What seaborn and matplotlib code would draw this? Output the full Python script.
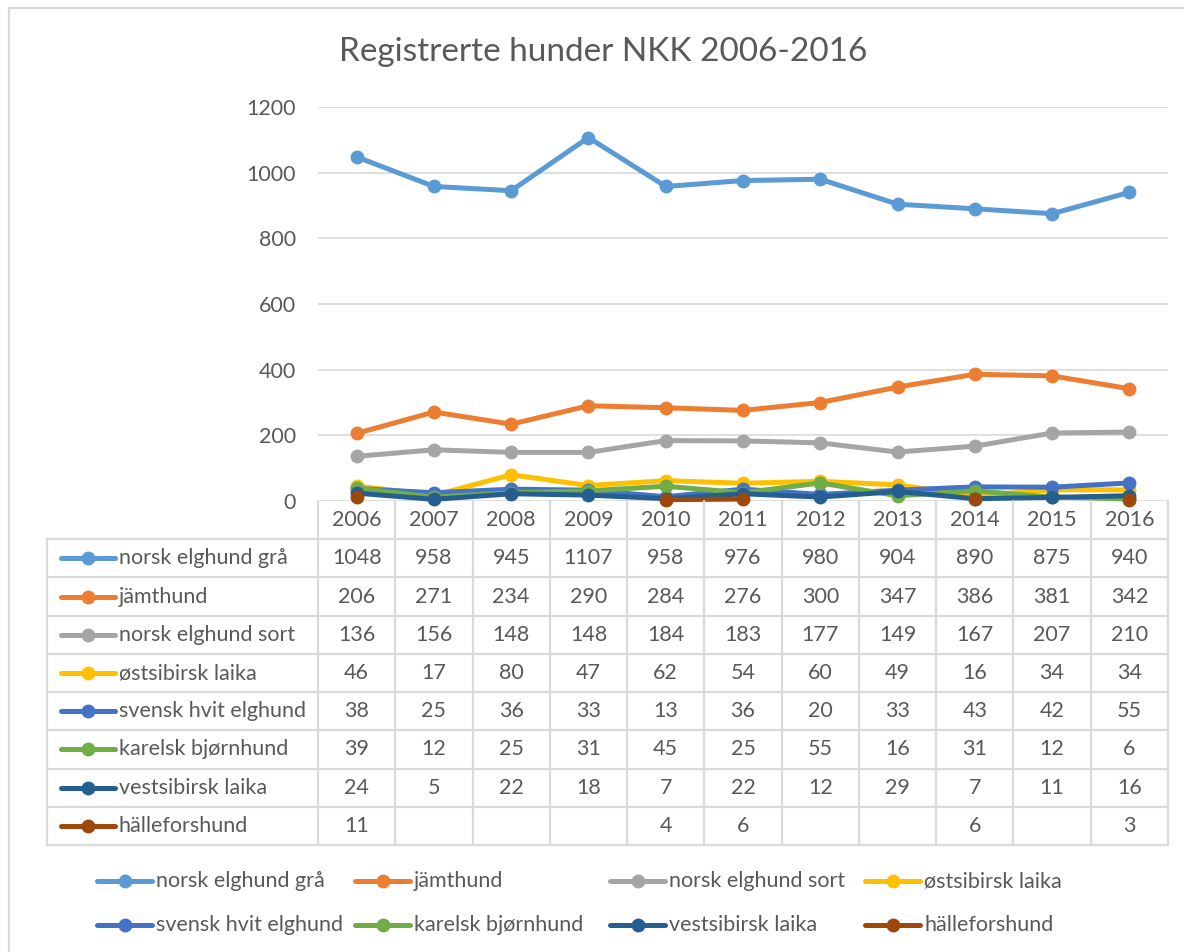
import numpy as np
import pandas as pd
import matplotlib
matplotlib.use('Agg')
import matplotlib.pyplot as plt
import seaborn as sns

# --- Data ---
years = [2006, 2007, 2008, 2009, 2010, 2011, 2012, 2013, 2014, 2015, 2016]
breeds = ['norsk elghund grå', 'jämthund', 'norsk elghund sort', 'østsibirsk laika',
          'svensk hvit elghund', 'karelsk bjørnhund', 'vestsibirsk laika', 'hälleforshund']
norsk_elghund_gra = [1048, 958, 945, 1107, 958, 976, 980, 904, 890, 875, 940]
jamthund = [206, 271, 234, 290, 284, 276, 300, 347, 386, 381, 342]
norsk_elghund_sort = [136, 156, 148, 148, 184, 183, 177, 149, 167, 207, 210]
ostsibirsk_laika = [46, 17, 80, 47, 62, 54, 60, 49, 16, 34, 34]
svensk_hvit_elghund = [38, 25, 36, 33, 13, 36, 20, 33, 43, 42, 55]
karelsk_bjornhund = [39, 12, 25, 31, 45, 25, 55, 16, 31, 12, 6]
vestsibirsk_laika = [24, 5, 22, 18, 7, 22, 12, 29, 7, 11, 16]
halleforshund = [11, np.nan, np.nan, np.nan, 4, 6, np.nan, np.nan, 6, np.nan, 3]
series = [norsk_elghund_gra, jamthund, norsk_elghund_sort, ostsibirsk_laika,
          svensk_hvit_elghund, karelsk_bjornhund, vestsibirsk_laika, halleforshund]
colors = ['#5B9BD5', '#ED7D31', '#A5A5A5', '#FFC000', '#4472C4', '#70AD47', '#255E91', '#9E480E']
title = 'Registrerte hunder NKK 2006-2016'

# --- Styling ---
sns.set_theme(style='white')
plt.rcParams['font.family'] = ['Lato', 'DejaVu Sans']
TXT = '#595959'
GRID = '#D9D9D9'
FS = 15.5

W, H = 1184, 952
fig = plt.figure(figsize=(W / 100, H / 100), dpi=100)
fig.patch.set_facecolor('white')

# pixel layout of the plot area / table
X0, X1 = 318, 1168
Y_TOP, Y_ZERO = 107, 501
TAB_LEFT, TAB_BOTTOM = 47, 845
ncol = len(years)
colw = (X1 - X0) / ncol
rowh = (TAB_BOTTOM - Y_ZERO) / (len(breeds) + 1)

ax = fig.add_axes([X0 / W, 1 - Y_ZERO / H, (X1 - X0) / W, (Y_ZERO - Y_TOP) / H])

# long-form frame, one run id per unbroken stretch so gaps stay gaps
rows = []
for name, vals in zip(breeds, series):
    run = 0
    prev_ok = False
    for i, v in enumerate(vals):
        ok = not np.isnan(v)
        if ok and not prev_ok:
            run += 1
        if ok:
            rows.append({'idx': i, 'value': v, 'breed': name, 'run': f'{name}_{run}'})
        prev_ok = ok
df = pd.DataFrame(rows)

for name, col in zip(breeds, colors):
    sub = df[df['breed'] == name]
    sns.lineplot(data=sub, x='idx', y='value', units='run', estimator=None,
                 color=col, marker='o', markersize=10, markeredgewidth=0,
                 linewidth=3.6, ax=ax, legend=False, clip_on=False, zorder=3)

ax.set_xlim(-0.5, ncol - 0.5)
ax.set_ylim(0, 1200)
ax.set_yticks(range(0, 1201, 200))
ax.set_xticks([])
ax.set_xlabel('')
ax.set_ylabel('')
ax.grid(axis='y', color=GRID, linewidth=1.2)
ax.set_axisbelow(True)
for s in ax.spines.values():
    s.set_visible(False)
ax.tick_params(axis='y', length=0, pad=16, labelsize=FS, labelcolor=TXT)

# --- overlay in pixel coordinates: border, title, table, legend ---
ov = fig.add_axes([0, 0, 1, 1], zorder=-1)
ov.set_xlim(0, W)
ov.set_ylim(H, 0)
ov.axis('off')
ov.plot([9, 9, W + 5], [H + 5, 8, 8], color=GRID, lw=1.6, clip_on=False)

fig.text(603 / W, 1 - 52 / H, title, ha='center', va='center', fontsize=24, color=TXT)

tab = fig.add_axes([0, 0, 1, 1])
tab.set_xlim(0, W)
tab.set_ylim(H, 0)
tab.axis('off')
# grid lines of the table
for k in range(ncol + 1):
    x = X0 + k * colw
    tab.plot([x, x], [Y_ZERO, TAB_BOTTOM], color=GRID, lw=1.6)
for r in range(1, len(breeds) + 2):
    y = Y_ZERO + r * rowh
    tab.plot([TAB_LEFT, X1], [y, y], color=GRID, lw=1.6)
tab.plot([TAB_LEFT, TAB_LEFT], [Y_ZERO + rowh, TAB_BOTTOM], color=GRID, lw=1.6)

for i, yr in enumerate(years):
    tab.text(X0 + (i + 0.5) * colw, Y_ZERO + 0.5 * rowh, str(yr),
             ha='center', va='center', fontsize=FS, color=TXT)

for r, (name, vals, col) in enumerate(zip(breeds, series, colors)):
    yc = Y_ZERO + (r + 1.5) * rowh
    tab.plot([61, 115], [yc, yc], color=col, lw=3.6, solid_capstyle='round')
    tab.plot([88], [yc], 'o', color=col, markersize=10, markeredgewidth=0)
    tab.text(119, yc, name, ha='left', va='center', fontsize=FS, color=TXT)
    for i, v in enumerate(vals):
        if not np.isnan(v):
            tab.text(X0 + (i + 0.5) * colw, yc, f'{int(v)}',
                     ha='center', va='center', fontsize=FS, color=TXT)

# legend below the table
leg_x = [97, 355, 610, 865]
leg_y = [881, 925]
for n, (name, col) in enumerate(zip(breeds, colors)):
    lx = leg_x[n % 4]
    ly = leg_y[n // 4]
    tab.plot([lx, lx + 55], [ly, ly], color=col, lw=3.6, solid_capstyle='round')
    tab.plot([lx + 27.5], [ly], 'o', color=col, markersize=10, markeredgewidth=0)
    tab.text(lx + 59, ly, name, ha='left', va='center', fontsize=FS, color=TXT)

fig.savefig('out.png', dpi=100, facecolor='white')
